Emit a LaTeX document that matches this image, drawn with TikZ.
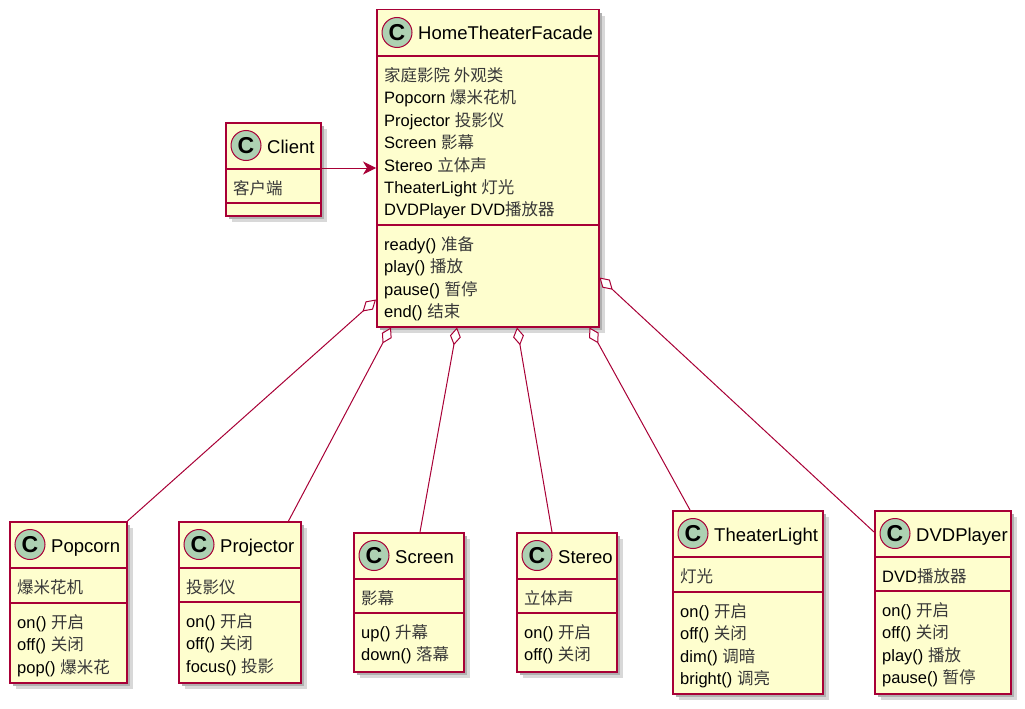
\documentclass[tikz,border=0pt]{standalone}
\usepackage{fontspec}
\setmainfont{Liberation Sans}
\newfontfamily\cjkfont{Noto Sans CJK SC}
\usepackage{tikz}
\usetikzlibrary{arrows.meta,positioning,calc}
\definecolor{ClassFill}{HTML}{FEFECE}
\definecolor{ClassLine}{HTML}{A80036}
\definecolor{IconFill}{HTML}{ADD1B2}
\definecolor{ShadeA}{HTML}{D8D8D8}
\definecolor{ShadeB}{HTML}{B0B0B0}
\newcommand{\zh}[1]{{\cjkfont\color{black!78}#1}}
% one class box: id, top-left, width, field height, method height, name, fields, methods
\newcommand{\umlclass}[8]{%
  \fill[ShadeA] ($#2+(7,7)$) rectangle ($#2+(#3+7,47+#4+#5+7)$);
  \fill[ShadeB] ($#2+(4,4)$) rectangle ($#2+(#3+4,47+#4+#5+4)$);
  \node[classbox,minimum width=#3,minimum height=47+#4+#5] (#1) at #2 {};
  \draw[sepline] ([yshift=-47]#1.north west) -- ([yshift=-47]#1.north east);
  \draw[sepline] ([yshift=-47-#4]#1.north west) -- ([yshift=-47-#4]#1.north east);
  \node[classicon] (#1-icon) at ([xshift=21,yshift=-23.5]#1.north west) {C};
  \node[classname] (#1-name) at ([xshift=42,yshift=-31]#1.north west) {#6};
  \foreach \t [count=\i] in {#7}
    \node[member] (#1-f\i) at ([xshift=8,yshift=-50-22.4*\i]#1.north west) {\t};
  \foreach \t [count=\i] in {#8}
    \node[member] (#1-m\i) at ([xshift=8,yshift=-50-#4-22.4*\i]#1.north west) {\t};
}

\begin{document}
\begin{tikzpicture}[x=1pt,y=-1pt,>=Stealth,
  classbox/.style={draw=ClassLine,line width=1.5pt,fill=ClassFill,anchor=north west,inner sep=0pt},
  sepline/.style={draw=ClassLine,line width=1.5pt},
  classicon/.style={circle,draw=ClassLine,line width=1pt,fill=IconFill,minimum size=30pt,inner sep=0pt,
    font=\fontsize{23}{23}\selectfont\bfseries},
  classname/.style={anchor=base west,inner sep=0pt,font=\fontsize{18.5}{22}\selectfont},
  member/.style={anchor=base west,inner sep=0pt,font=\fontsize{16.5}{20}\selectfont},
  agg/.style={draw=ClassLine,line width=1pt,{Diamond[fill=white,length=18pt,width=11pt]}-},
  assoc/.style={draw=ClassLine,line width=1pt,-{Stealth[length=13pt,width=13pt,inset=4pt]}}]
  \useasboundingbox (0,0) rectangle (1025,709);

  \umlclass{facade}{(376,9)}{222}{169}{101}{HomeTheaterFacade}
    {\zh{家庭影院 外观类},Popcorn \zh{爆米花机},Projector \zh{投影仪},Screen \zh{影幕},
     Stereo \zh{立体声},TheaterLight \zh{灯光},DVDPlayer DVD\zh{播放器}}
    {ready() \zh{准备},play() \zh{播放},pause() \zh{暂停},end() \zh{结束}}
  \umlclass{client}{(225,122)}{95}{34}{12}{Client}{\zh{客户端}}{}
  \umlclass{popcorn}{(9,521)}{117}{35}{79}{Popcorn}{\zh{爆米花机}}
    {on() \zh{开启},off() \zh{关闭},pop() \zh{爆米花}}
  \umlclass{projector}{(178,521)}{122}{34}{80}{Projector}{\zh{投影仪}}
    {on() \zh{开启},off() \zh{关闭},focus() \zh{投影}}
  \umlclass{screen}{(353,532)}{110}{34}{58}{Screen}{\zh{影幕}}
    {up() \zh{升幕},down() \zh{落幕}}
  \umlclass{stereo}{(516,532)}{100}{34}{58}{Stereo}{\zh{立体声}}
    {on() \zh{开启},off() \zh{关闭}}
  \umlclass{light}{(672,510)}{150}{35}{101}{TheaterLight}{\zh{灯光}}
    {on() \zh{开启},off() \zh{关闭},dim() \zh{调暗},bright() \zh{调亮}}
  \umlclass{dvd}{(874,510)}{136}{34}{102}{DVDPlayer}{DVD\zh{播放器}}
    {on() \zh{开启},off() \zh{关闭},play() \zh{播放},pause() \zh{暂停}}

  % client uses the facade
  \draw[assoc] ([yshift=-46]client.north east) -- ([yshift=-46]client.north east -| facade.west);

  % facade holds the subsystems
  \draw[agg] ([yshift=28]facade.south west) -- (popcorn.north east);
  \draw[agg] ([xshift=15]facade.south west) -- ([xshift=-13]projector.north east);
  \draw[agg] ([xshift=81]facade.south west) -- ([xshift=67]screen.north west);
  \draw[agg] ([xshift=141]facade.south west) -- ([xshift=36]stereo.north west);
  \draw[agg] ([xshift=-10]facade.south east) -- ([xshift=18]light.north west);
  \draw[agg] ([yshift=50]facade.south east) -- ([yshift=-22]dvd.north west);
\end{tikzpicture}
\end{document}
